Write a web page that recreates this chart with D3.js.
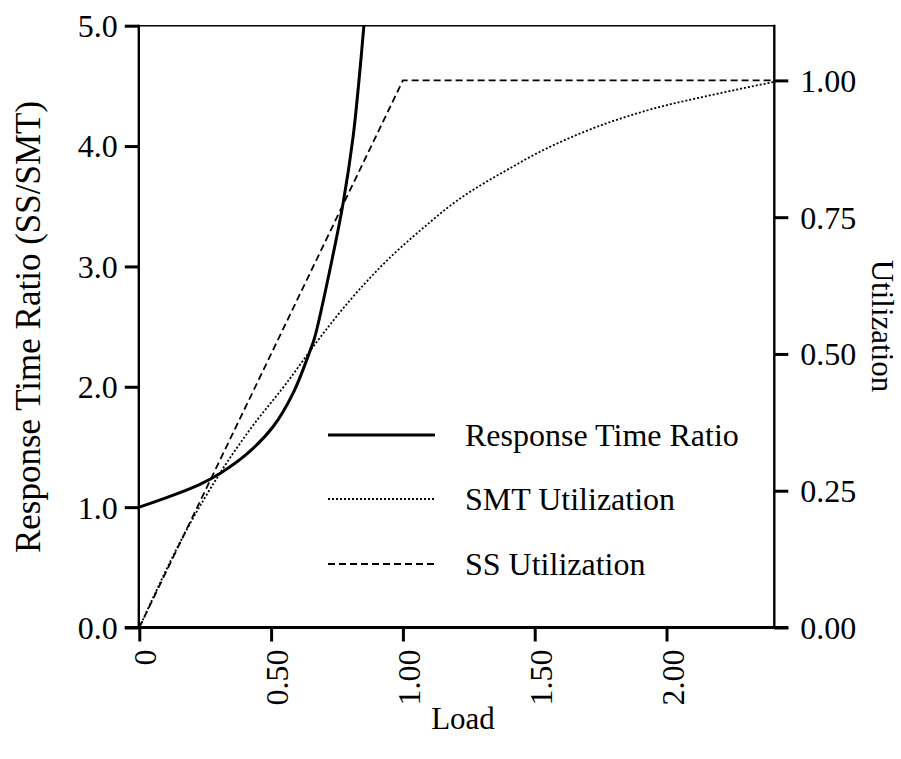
<!DOCTYPE html>
<html>
<head>
<meta charset="utf-8">
<script src="https://cdn.jsdelivr.net/npm/d3@7"></script>
<style>
  html, body { margin: 0; padding: 0; background: #fff; }
  svg text { font-family: "Liberation Serif", "Times New Roman", serif; fill: #000; }
</style>
</head>
<body>
<svg id="chart" width="901" height="759"></svg>
<script>
// ---- data ----
const responseLoad  = [0, 0.129, 0.230, 0.306, 0.407, 0.508, 0.584, 0.648, 0.666, 0.736, 0.773, 0.811, 0.837, 0.852];
const responseRatio = [1.0, 1.10, 1.19, 1.28, 1.44, 1.67, 1.95, 2.30, 2.415, 3.108, 3.523, 4.076, 4.63, 5.0];

const smtLoad = [0, 0.18, 0.306, 0.42, 0.559, 0.673, 0.799, 0.913, 1.103, 1.166, 1.419, 1.482, 1.672, 1.925, 2.178, 2.405];
const smtUtil = [0, 0.179, 0.282, 0.362, 0.447, 0.522, 0.598, 0.658, 0.741, 0.766, 0.843, 0.860, 0.903, 0.945, 0.974, 0.997];

const ssLoad = [0, 1.0, 2.41];
const ssUtil = [0, 1.0, 1.0];

const xTicks = [0, 0.5, 1.0, 1.5, 2.0];
const xTickLabels = ["0", "0.50", "1.00", "1.50", "2.00"];
const leftTicks = [0, 1, 2, 3, 4, 5];
const leftTickLabels = ["0.0", "1.0", "2.0", "3.0", "4.0", "5.0"];
const rightTicks = [0, 0.25, 0.5, 0.75, 1.0];
const rightTickLabels = ["0.00", "0.25", "0.50", "0.75", "1.00"];

const legendLabels = ["Response Time Ratio", "SMT Utilization", "SS Utilization"];

// ---- layout ----
const svg = d3.select("#chart");
const L = 138.8, R = 774.3, T = 25.7, B = 627.5;
const FS = 32;
const FF = '"Liberation Serif", "Times New Roman", serif';

const x = d3.scaleLinear().domain([0, 2.41]).range([139.3, 774.6]);
const yL = d3.scaleLinear().domain([0, 5]).range([B, T]);
const yR = d3.scaleLinear().domain([0, 1.1]).range([B, T]);

// clip
svg.append("defs").append("clipPath").attr("id", "plotclip")
  .append("rect").attr("x", L).attr("y", T).attr("width", R - L + 1).attr("height", B - T);

// top border
svg.append("line").attr("x1", L).attr("x2", R).attr("y1", T).attr("y2", T)
  .attr("stroke", "#000").attr("stroke-width", 1.6);

// left axis
const leftAxis = d3.axisLeft(yL).tickValues(leftTicks)
  .tickFormat((d, i) => leftTickLabels[i]).tickSize(14).tickPadding(7);
const gL = svg.append("g").attr("transform", `translate(${L},0)`).call(leftAxis);

// right axis
const rightAxis = d3.axisRight(yR).tickValues(rightTicks)
  .tickFormat((d, i) => rightTickLabels[i]).tickSize(14).tickPadding(12);
const gR = svg.append("g").attr("transform", `translate(${R},0)`).call(rightAxis);

// bottom axis
const bottomAxis = d3.axisBottom(x).tickValues(xTicks)
  .tickFormat((d, i) => xTickLabels[i]).tickSize(14);
const gB = svg.append("g").attr("transform", `translate(0,${B})`).call(bottomAxis);

[gL, gR, gB].forEach(g => {
  g.attr("font-family", FF).attr("font-size", FS);
  g.select(".domain").remove();
  g.selectAll(".tick line").attr("stroke", "#000").attr("stroke-width", 3);
  g.selectAll(".tick text").attr("font-size", FS).attr("font-family", FF);
});
gL.selectAll(".tick text").attr("dy", "0.34em");
gR.selectAll(".tick text").attr("dy", "0.34em");
gB.selectAll(".tick text")
  .attr("transform", "rotate(-90)")
  .attr("text-anchor", "end")
  .attr("x", -22).attr("y", 0).attr("dy", "0.52em");

// axis lines
svg.append("line").attr("x1", L).attr("x2", L).attr("y1", T - 1).attr("y2", B)
  .attr("stroke", "#000").attr("stroke-width", 2.4);
svg.append("line").attr("x1", R).attr("x2", R).attr("y1", T - 1).attr("y2", B)
  .attr("stroke", "#000").attr("stroke-width", 2.4);
svg.append("line").attr("x1", L - 14).attr("x2", R + 14).attr("y1", B).attr("y2", B)
  .attr("stroke", "#000").attr("stroke-width", 2.8);

// series
const plot = svg.append("g").attr("clip-path", "url(#plotclip)");
const lineL = d3.line().x(d => x(d[0])).y(d => yL(d[1])).curve(d3.curveCatmullRom.alpha(0.5));
const lineR = d3.line().x(d => x(d[0])).y(d => yR(d[1])).curve(d3.curveMonotoneX);
const lineRlin = d3.line().x(d => x(d[0])).y(d => yR(d[1]));

plot.append("path").datum(ssLoad.map((v, i) => [v, ssUtil[i]]))
  .attr("d", lineRlin).attr("fill", "none").attr("stroke", "#000")
  .attr("stroke-width", 1.8).attr("stroke-dasharray", "7,4");
plot.append("path").datum(smtLoad.map((v, i) => [v, smtUtil[i]]))
  .attr("d", lineR).attr("fill", "none").attr("stroke", "#000")
  .attr("stroke-width", 1.8).attr("stroke-dasharray", "2,2");
plot.append("path").datum(responseLoad.map((v, i) => [v, responseRatio[i]]))
  .attr("d", lineL).attr("fill", "none").attr("stroke", "#000")
  .attr("stroke-width", 3);

// legend
const legY = [435, 499, 564];
const legDash = [null, "2,2", "7,4"];
const legW = [3, 1.8, 1.8];
legendLabels.forEach((lab, i) => {
  const ln = svg.append("line").attr("x1", 328).attr("x2", 435)
    .attr("y1", legY[i]).attr("y2", legY[i])
    .attr("stroke", "#000").attr("stroke-width", legW[i]);
  if (legDash[i]) ln.attr("stroke-dasharray", legDash[i]);
  svg.append("text").attr("x", 465).attr("y", legY[i]).attr("dy", "0.34em")
    .attr("font-family", FF).attr("font-size", FS).text(lab);
});

// axis titles
svg.append("text").attr("x", 463).attr("y", 729).attr("text-anchor", "middle")
  .attr("font-family", FF).attr("font-size", 31).text("Load");
svg.append("text").attr("transform", "translate(40,327) rotate(-90)")
  .attr("text-anchor", "middle").attr("font-family", FF).attr("font-size", 35)
  .text("Response Time Ratio (SS/SMT)");
svg.append("text").attr("transform", "translate(872,326) rotate(90)")
  .attr("text-anchor", "middle").attr("font-family", FF).attr("font-size", 31)
  .text("Utilization");
</script>
</body>
</html>
